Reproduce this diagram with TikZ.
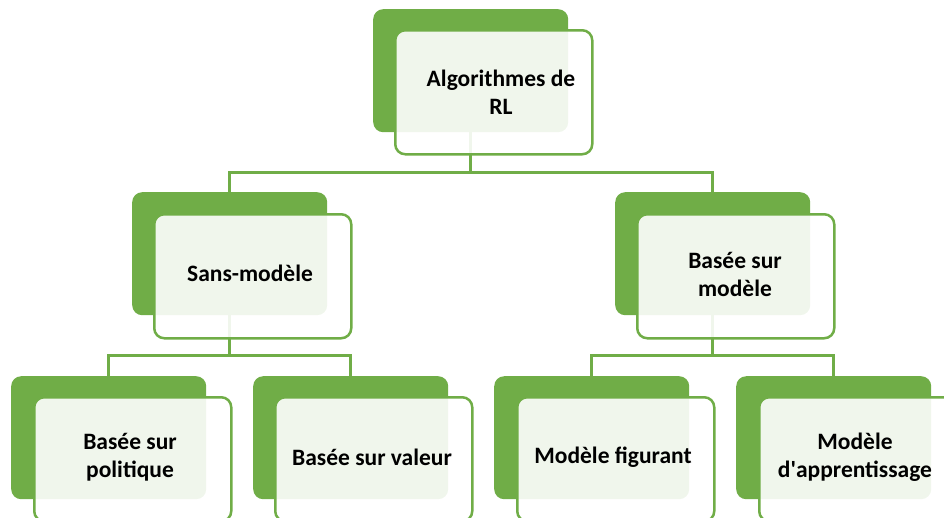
\documentclass[tikz,border=0pt]{standalone}
\usepackage{fontspec}
\setmainfont{Carlito}
\usetikzlibrary{backgrounds}
\definecolor{gr}{HTML}{70AD47}
\begin{document}
\begin{tikzpicture}[x=1pt,y=-1pt,
  back/.style={fill=gr, rounded corners=10pt, minimum width=195pt, minimum height=123pt, inner sep=0pt, anchor=north west},
  front/.style={draw=gr, line width=2.5pt, fill=white, fill opacity=0.9, rounded corners=10pt, minimum width=197pt, minimum height=124pt, inner sep=0pt, anchor=north west},
  lbl/.style={font=\bfseries\fontsize{23.5}{28}\selectfont, align=center, text=black, inner sep=0pt},
  conn/.style={draw=gr, line width=2.5pt}]
\useasboundingbox (0,0) rectangle (944,517);
\clip (0,0) rectangle (944,517);
% backs
\node[back] (rootB) at (373,9) {};
\node[back] (smB) at (132,192) {};
\node[back] (bsmB) at (615,192) {};
\node[back] (bpB) at (11,376) {};
\node[back] (bvB) at (253,376) {};
\node[back] (mfB) at (494,376) {};
\node[back] (maB) at (736,376) {};
% fronts
\node[front] (rootF) at (394,29) {};
\node[front] (smF) at (153,213) {};
\node[front] (bsmF) at (636,213) {};
\node[front] (bpF) at (33,396) {};
\node[front] (bvF) at (274,396) {};
\node[front] (mfF) at (516,396) {};
\node[front] (maF) at (758,396) {};
% texts
\node[lbl] (rootT) at (501,92) {Algorithmes de\\RL};
\node[lbl] (smT) at (250,273) {Sans-modèle};
\node[lbl] (bsmT) at (735,274) {Basée sur\\modèle};
\node[lbl] (bpT) at (130,457) {Basée sur\\politique};
\node[lbl] (bvT) at (372,457) {Basée sur valeur};
\node[lbl] (mfT) at (613,457) {Modèle figurant};
\node[lbl] (maT) at (855,457) {Modèle\\d\textquotesingle apprentissage};
% connectors
\begin{pgfonlayer}{background}
\draw[conn] (rootB.south) -- ++(0,40) -| (smB.north);
\draw[conn] (rootB.south) -- ++(0,40) -| (bsmB.north);
\draw[conn] (smB.south) -- ++(0,40) -| (bpB.north);
\draw[conn] (smB.south) -- ++(0,40) -| (bvB.north);
\draw[conn] (bsmB.south) -- ++(0,40) -| (mfB.north);
\draw[conn] (bsmB.south) -- ++(0,40) -| (maB.north);
\end{pgfonlayer}
\end{tikzpicture}
\end{document}
